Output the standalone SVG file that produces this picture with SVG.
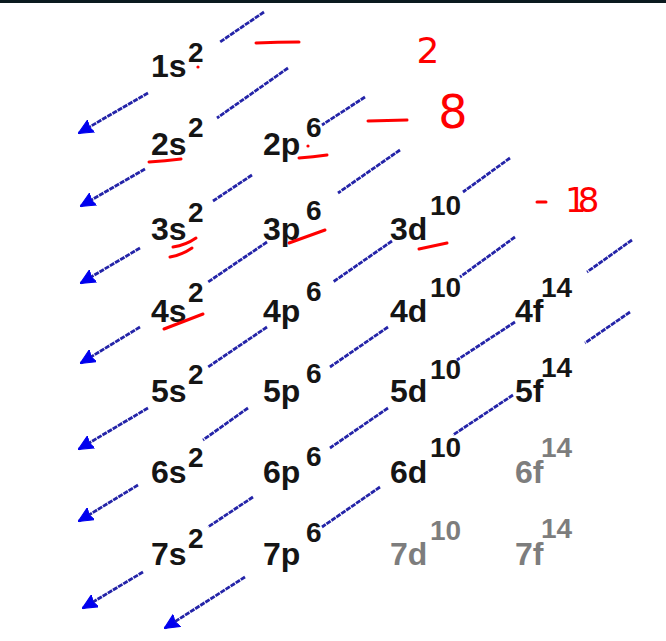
<svg xmlns="http://www.w3.org/2000/svg" width="666" height="641" viewBox="0 0 666 641">
<style>
.m{font-family:"Liberation Sans",Arial,sans-serif;font-weight:bold;font-size:32px;fill:#151515}
.g{fill:#7d7d7d}
.sp{font-size:28px}
.c line{stroke:#2424a8;stroke-width:2.8;stroke-dasharray:5 1;fill:none}
.c line.a{marker-end:url(#ah)}
.r{stroke:#ff0000;stroke-width:3;stroke-linecap:round;fill:none}
.rt{font-family:"DejaVu Sans",sans-serif;fill:#ff0000}
</style>
<defs>
<marker id="ah" viewBox="0 0 14 14" refX="13" refY="7" markerWidth="15" markerHeight="15" markerUnits="userSpaceOnUse" orient="auto">
<path d="M0,0.5 L14,7 L0,13.5 L2,7 Z" fill="#0000ee" stroke="#0000ee" stroke-width="1" stroke-linejoin="round"/>
</marker>
</defs>
<rect x="0" y="0" width="666" height="641" fill="#ffffff"/>
<rect x="0" y="0" width="666" height="3" fill="#0b1a1f"/>

<g id="connectors" class="c">
<line x1="264" y1="12" x2="220" y2="42"/>
<line class="a" x1="148" y1="93" x2="79" y2="133"/>
<line x1="288" y1="68" x2="217" y2="118"/>
<line class="a" x1="145" y1="169" x2="81" y2="206"/>
<line x1="365" y1="97" x2="322" y2="125"/>
<line x1="252" y1="175" x2="213" y2="201"/>
<line class="a" x1="140" y1="248" x2="81" y2="283"/>
<line x1="400" y1="150" x2="338" y2="193"/>
<line x1="267" y1="242" x2="208" y2="282"/>
<line class="a" x1="140" y1="327" x2="81" y2="363"/>
<line x1="510" y1="158" x2="463" y2="192"/>
<line x1="392" y1="241" x2="333" y2="282"/>
<line x1="267" y1="327" x2="208" y2="367"/>
<line class="a" x1="148" y1="408" x2="79" y2="449"/>
<line x1="515" y1="237" x2="460" y2="277"/>
<line x1="388" y1="327" x2="330" y2="367"/>
<line x1="248" y1="408" x2="203" y2="440"/>
<line class="a" x1="138" y1="485" x2="79" y2="521"/>
<line x1="632" y1="240" x2="587" y2="272"/>
<line x1="515" y1="322" x2="457" y2="360"/>
<line x1="388" y1="408" x2="330" y2="448"/>
<line x1="253" y1="497" x2="208" y2="527"/>
<line class="a" x1="143" y1="572" x2="83" y2="608"/>
<line x1="630" y1="312" x2="585" y2="343"/>
<line x1="513" y1="395" x2="453" y2="435"/>
<line x1="380" y1="487" x2="322" y2="527"/>
<line class="a" x1="245" y1="577" x2="165" y2="628"/>
</g>

<g id="n1s"><text class="m" x="151" y="77">1s<tspan class="sp" x="188" y="62">2</tspan></text></g>
<g id="n2s"><text class="m" x="151" y="155">2s<tspan class="sp" x="188" y="137">2</tspan></text></g>
<g id="n2p"><text class="m" x="263" y="155">2p<tspan class="sp" x="306" y="137">6</tspan></text></g>
<g id="n3s"><text class="m" x="151" y="240">3s<tspan class="sp" x="188" y="222">2</tspan></text></g>
<g id="n3p"><text class="m" x="263" y="240">3p<tspan class="sp" x="306" y="220">6</tspan></text></g>
<g id="n3d"><text class="m" x="390" y="240">3d<tspan class="sp" x="430" y="215">10</tspan></text></g>
<g id="n4s"><text class="m" x="151" y="322">4s<tspan class="sp" x="188" y="302">2</tspan></text></g>
<g id="n4p"><text class="m" x="263" y="322">4p<tspan class="sp" x="306" y="301">6</tspan></text></g>
<g id="n4d"><text class="m" x="390" y="322">4d<tspan class="sp" x="430" y="297">10</tspan></text></g>
<g id="n4f"><text class="m" x="515" y="322">4f<tspan class="sp" x="541" y="297">14</tspan></text></g>
<g id="n5s"><text class="m" x="151" y="402">5s<tspan class="sp" x="188" y="384">2</tspan></text></g>
<g id="n5p"><text class="m" x="263" y="402">5p<tspan class="sp" x="306" y="383">6</tspan></text></g>
<g id="n5d"><text class="m" x="390" y="402">5d<tspan class="sp" x="430" y="379">10</tspan></text></g>
<g id="n5f"><text class="m" x="515" y="402">5f<tspan class="sp" x="541" y="377">14</tspan></text></g>
<g id="n6s"><text class="m" x="151" y="483">6s<tspan class="sp" x="188" y="467">2</tspan></text></g>
<g id="n6p"><text class="m" x="263" y="483">6p<tspan class="sp" x="306" y="466">6</tspan></text></g>
<g id="n6d"><text class="m" x="390" y="483">6d<tspan class="sp" x="430" y="457">10</tspan></text></g>
<g id="n6f"><text class="m g" x="515" y="483">6f<tspan class="sp" x="541" y="457">14</tspan></text></g>
<g id="n7s"><text class="m" x="151" y="565">7s<tspan class="sp" x="188" y="548">2</tspan></text></g>
<g id="n7p"><text class="m" x="263" y="565">7p<tspan class="sp" x="306" y="542">6</tspan></text></g>
<g id="n7d"><text class="m g" x="390" y="565">7d<tspan class="sp" x="430" y="540">10</tspan></text></g>
<g id="n7f"><text class="m g" x="515" y="565">7f<tspan class="sp" x="541" y="538">14</tspan></text></g>

<g id="annotations">
<path class="r" d="M256,43 Q278,42 299,42"/>
<circle cx="198" cy="67" r="1.6" fill="#ff0000"/>
<text class="rt" x="428" y="63" font-size="36" text-anchor="middle">2</text>
<path class="r" d="M368,121 L407,120"/>
<text class="rt" x="453" y="128" font-size="46" text-anchor="middle">8</text>
<path class="r" d="M149,162 Q165,161 181,159"/>
<circle cx="308" cy="146" r="1.6" fill="#ff0000"/>
<path class="r" d="M299,158 Q313,157 327,155"/>
<path class="r" stroke-width="2" d="M173,247 Q186,245 196,238"/>
<path class="r" stroke-width="2" d="M170,257 Q182,255 192,248"/>
<path class="r" d="M289,243 L325,230"/>
<path class="r" d="M164,329 L203,314"/>
<path class="r" d="M419,249 L447,243"/>
<path class="r" d="M537,202 L546,202"/>
<text class="rt" x="565" y="212" font-size="34" letter-spacing="-9">18</text>
</g>
</svg>
